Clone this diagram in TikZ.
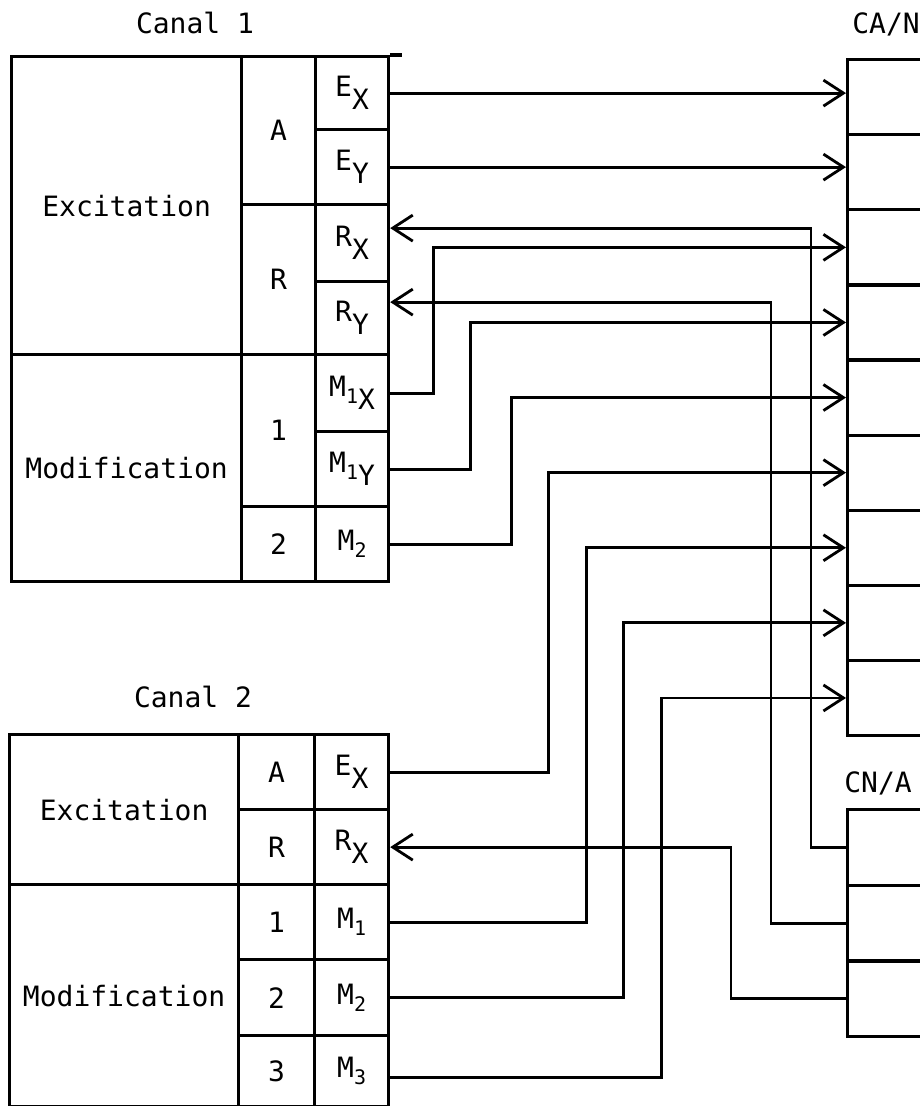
\documentclass[tikz,border=0pt]{standalone}
\usepackage{fontspec}
\setmainfont{DejaVu Sans Mono}
\usepackage{tikz}
\usetikzlibrary{arrows.meta, positioning, calc}
\newcommand{\lo}[1]{\raisebox{-13pt}{#1}}
\newcommand{\lon}[1]{\raisebox{-7pt}{\fontsize{20}{20}\selectfont #1}}

\begin{document}
\begin{tikzpicture}[x=1pt, y=-1pt,
		font=\fontsize{28}{32}\selectfont,
		cell/.style={draw, line width=3.2pt, anchor=north west, inner sep=0pt, align=center},
		wire/.style={line width=2.8pt},
		arr/.style={-{Straight Barb[length=20pt, width=26pt]}}]
	\useasboundingbox (0,0) rectangle (920,1106);
	\clip (0,0) rectangle (920,1106);
	\fill[white] (0,0) rectangle (920,1106);

	\node (lc1) at (195,23) {Canal 1};
	\node[cell, minimum width=230pt, minimum height=298pt] (c1exc) at (10,55) {Excitation};
	\node[cell, minimum width=230pt, minimum height=227pt] (c1mod) at (10,353) {Modification};
	\node[cell, minimum width=74pt, minimum height=148pt] (c1a) at (240,55) {A};
	\node[cell, minimum width=74pt, minimum height=150pt] (c1r) at (240,203) {R};
	\node[cell, minimum width=74pt, minimum height=152pt] (c1n1) at (240,353) {1};
	\node[cell, minimum width=74pt, minimum height=75pt] (c1n2) at (240,505) {2};
	\node[cell, minimum width=73pt, minimum height=73pt] (c1ex) at (314,55) {E\lo{X}};
	\node[cell, minimum width=73pt, minimum height=75pt] (c1ey) at (314,128) {E\lo{Y}};
	\node[cell, minimum width=73pt, minimum height=77pt] (c1rx) at (314,203) {R\lo{X}};
	\node[cell, minimum width=73pt, minimum height=73pt] (c1ry) at (314,280) {R\lo{Y}};
	\node[cell, minimum width=73pt, minimum height=77pt] (c1m1x) at (314,353) {M\lon{1}\lo{X}};
	\node[cell, minimum width=73pt, minimum height=75pt] (c1m1y) at (314,430) {M\lon{1}\lo{Y}};
	\node[cell, minimum width=73pt, minimum height=75pt] (c1m2) at (314,505) {M\lon{2}};
	\draw[line width=3.2pt] (c1ex.north east) -- ++(12,0);

	\node (lc2) at (193,697) {Canal 2};
	\node[cell, minimum width=229pt, minimum height=150pt] (c2exc) at (8,733) {Excitation};
	\node[cell, minimum width=229pt, minimum height=222pt] (c2mod) at (8,883) {Modification};
	\node[cell, minimum width=76pt, minimum height=75pt] (c2a) at (237,733) {A};
	\node[cell, minimum width=76pt, minimum height=75pt] (c2r) at (237,808) {R};
	\node[cell, minimum width=76pt, minimum height=75pt] (c2n1) at (237,883) {1};
	\node[cell, minimum width=76pt, minimum height=76pt] (c2n2) at (237,958) {2};
	\node[cell, minimum width=76pt, minimum height=71pt] (c2n3) at (237,1034) {3};
	\node[cell, minimum width=74pt, minimum height=75pt] (c2ex) at (313,733) {E\lo{X}};
	\node[cell, minimum width=74pt, minimum height=75pt] (c2rx) at (313,808) {R\lo{X}};
	\node[cell, minimum width=74pt, minimum height=75pt] (c2m1) at (313,883) {M\lon{1}};
	\node[cell, minimum width=74pt, minimum height=76pt] (c2m2) at (313,958) {M\lon{2}};
	\node[cell, minimum width=74pt, minimum height=71pt] (c2m3) at (313,1034) {M\lon{3}};

	\node (lcan) at (886,24) {CA/N};
	\foreach \i in {1,...,9}
		\node[cell, minimum width=100pt, minimum height=75.1pt] (can\i) at (846,{58+75.1*(\i-1)}) {};
	\node (lcna) at (878,783) {CN/A};
	\foreach \i in {1,2,3}
		\node[cell, minimum width=100pt, minimum height=75.7pt] (cna\i) at (846,{808+75.7*(\i-1)}) {};

	\draw[wire, arr] (c1ex.east) -- (c1ex.east -| can1.west);
	\draw[wire, arr] (c1ey.east) -- (c1ey.east -| can2.west);
	\draw[wire, arr] (cna1.west) -- ++(-35,0) |- ([yshift=15pt]c1rx.east);
	\draw[wire, arr] (cna2.west) -- ++(-75,0) |- ([yshift=16pt]c1ry.east);
	\draw[wire, arr] (cna3.west) -- ++(-115,0) |- (c2rx.east);
	\draw[wire, arr] (c1m1x.east) -- ++(43,0) |- (can3.west);
	\draw[wire, arr] (c1m1y.east) -- ++(80,0) |- (can4.west);
	\draw[wire, arr] (c1m2.east) -- ++(121,0) |- (can5.west);
	\draw[wire, arr] (c2ex.east) -- ++(158,0) |- (can6.west);
	\draw[wire, arr] (c2m1.east) -- ++(196,0) |- (can7.west);
	\draw[wire, arr] (c2m2.east) -- ++(233,0) |- (can8.west);
	\draw[wire, arr] ([yshift=-6pt]c2m3.east) -- ++(271,0) |- (can9.west);
\end{tikzpicture}
\end{document}
